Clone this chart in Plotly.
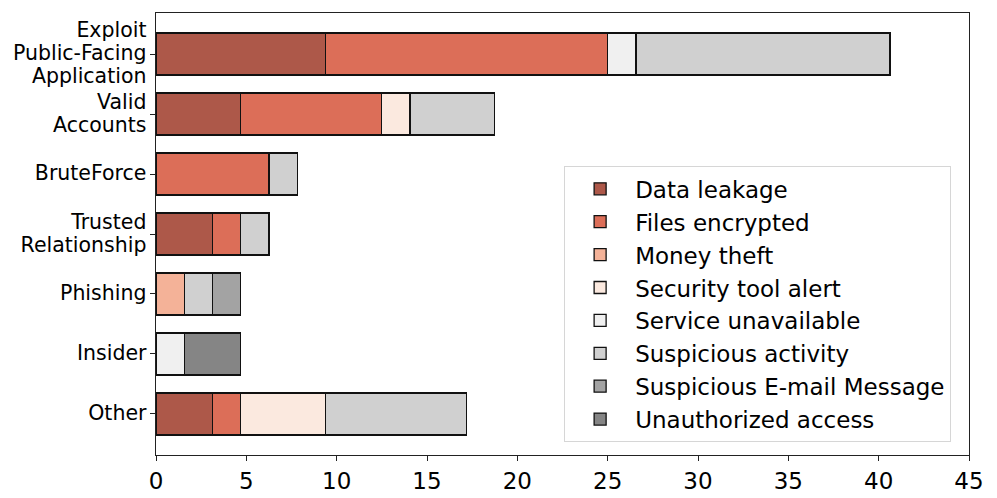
import plotly.graph_objects as go

categories = ["Exploit\nPublic-Facing\nApplication", "Valid\nAccounts", "BruteForce",
              "Trusted\nRelationship", "Phishing", "Insider", "Other"]

data_leakage = [9.375, 4.6875, 0, 3.125, 0, 0, 3.125]
files_encrypted = [15.625, 7.8125, 6.25, 1.5625, 0, 0, 1.5625]
money_theft = [0, 0, 0, 0, 1.5625, 0, 0]
security_tool_alert = [0, 1.5625, 0, 0, 0, 0, 4.6875]
service_unavailable = [1.5625, 0, 0, 0, 0, 1.5625, 0]
suspicious_activity = [14.0625, 4.6875, 1.5625, 1.5625, 1.5625, 0, 7.8125]
suspicious_email = [0, 0, 0, 0, 1.5625, 0, 0]
unauthorized_access = [0, 0, 0, 0, 0, 3.125, 0]

series_names = ["Data leakage", "Files encrypted", "Money theft", "Security tool alert",
                "Service unavailable", "Suspicious activity", "Suspicious E-mail Message",
                "Unauthorized access"]
series_values = [data_leakage, files_encrypted, money_theft, security_tool_alert,
                 service_unavailable, suspicious_activity, suspicious_email, unauthorized_access]
colors = ["#ad5849", "#dc6e58", "#f4b298", "#fbe9df", "#f0f0f0", "#d0d0d0", "#a3a3a3", "#858585"]

FONT = "DejaVu Sans"


def tick_label(cat):
    # larger glyphs with tighter line spacing (matplotlib-like)
    return "<br>".join(f"<span style='font-size:20.5px'>{line}</span>" for line in cat.split("\n"))


labels = [tick_label(c) for c in categories]

fig = go.Figure()
for name, vals, col in zip(series_names, series_values, colors):
    fig.add_trace(go.Bar(
        y=labels, x=vals, name=name, orientation="h", width=0.7,
        marker=dict(color=col, line=dict(color="#111111", width=1.3)),
    ))

fig.update_layout(
    barmode="stack",
    width=989, height=490,
    margin=dict(l=148, r=28, t=4, b=37),
    paper_bgcolor="white", plot_bgcolor="white",
    font=dict(family=FONT, color="black"),
    showlegend=True,
    legend=dict(
        x=0.502, y=0.653, xanchor="left", yanchor="top",
        traceorder="normal",
        font=dict(family=FONT, size=23, color="black"),
        bgcolor="white", bordercolor="#d6d6d6", borderwidth=1,
        itemwidth=60, tracegroupgap=0,
    ),
    xaxis=dict(
        range=[0, 45], dtick=5, tick0=0,
        showgrid=False, zeroline=False,
        showline=True, linecolor="#222222", linewidth=1, mirror=True,
        ticks="outside", ticklen=5, tickcolor="#222222",
        tickfont=dict(family=FONT, size=23, color="black"),
    ),
    yaxis=dict(
        type="category", categoryorder="array", categoryarray=labels,
        range=[6.685, -0.685],
        showgrid=False, zeroline=False, automargin=False,
        showline=True, linecolor="#222222", linewidth=1, mirror=True,
        ticks="outside", ticklen=5, tickcolor="#222222",
        tickfont=dict(family=FONT, size=17.7, color="black"),
    ),
)

fig.write_html("out.html")
